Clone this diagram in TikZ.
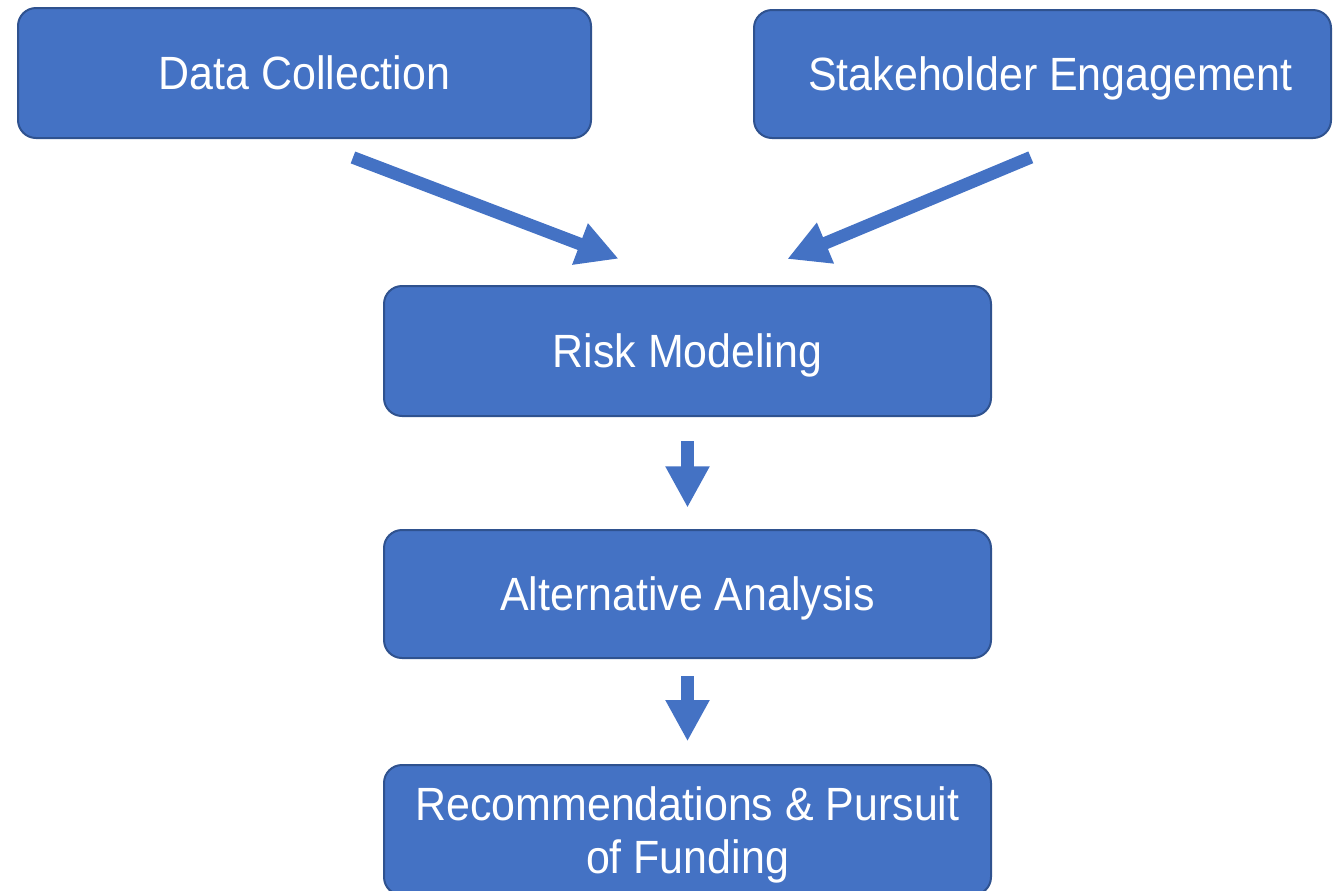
\documentclass[tikz,border=0pt]{standalone}
\usepackage{fontspec}
\usepackage{tikz}
\usetikzlibrary{arrows.meta,calc}
\newfontfamily\boxfont[FakeStretch=0.92]{Liberation Sans}
\definecolor{boxblue}{HTML}{4472C4}
\definecolor{boxedge}{HTML}{2F528F}
\tikzset{
  stage/.style={draw=boxedge, line width=1.5pt, fill=boxblue, rounded corners=13.5pt,
    text=white, font=\boxfont\fontsize{35}{40}\selectfont, align=center, inner sep=0pt,
    text depth=0pt},
  flow/.style={draw=boxblue, line width=10pt, -{Triangle[length=31pt,width=31pt]}}
}

\begin{document}
\begin{tikzpicture}[x=0.75pt,y=-0.75pt]
  \useasboundingbox (0,0) rectangle (1333,890);
  % top row
  \node[stage, minimum width=429.75pt, minimum height=97.5pt] (dc) at (304.5,73) {Data Collection};
  \node[stage, minimum width=432.75pt, minimum height=96pt] (se) at (1042.5,74) {\hspace{12pt}Stakeholder Engagement};
  % middle column
  \node[stage, minimum width=455.25pt, minimum height=97.5pt] (rm) at (687.5,351) {Risk Modeling};
  \node[stage, minimum width=455.25pt, minimum height=96pt] (aa) at (687.5,594) {Alternative Analysis};
  \node[stage, minimum width=455.25pt, minimum height=97.5pt] (rf) at (687.5,830)
    {Recommendations \& Pursuit\\of Funding};
  % arrows
  \coordinate (se-out) at ($(se.south)+(-11.7,18.3)$);
  \coordinate (rm-in) at ($(rm.north)+(99.8,-26)$);
  \draw[flow, line width=9.5pt, shorten <=38.9pt, shorten >=55.3pt] (dc.south) -- (rm.north);
  \draw[flow, line width=9.5pt] (se-out) -- (rm-in);
  \draw[flow, shorten <=18pt, shorten >=16pt] (rm.south) -- (aa.north);
  \draw[flow, shorten <=12.75pt, shorten >=17pt] (aa.south) -- (rf.north);
\end{tikzpicture}
\end{document}
